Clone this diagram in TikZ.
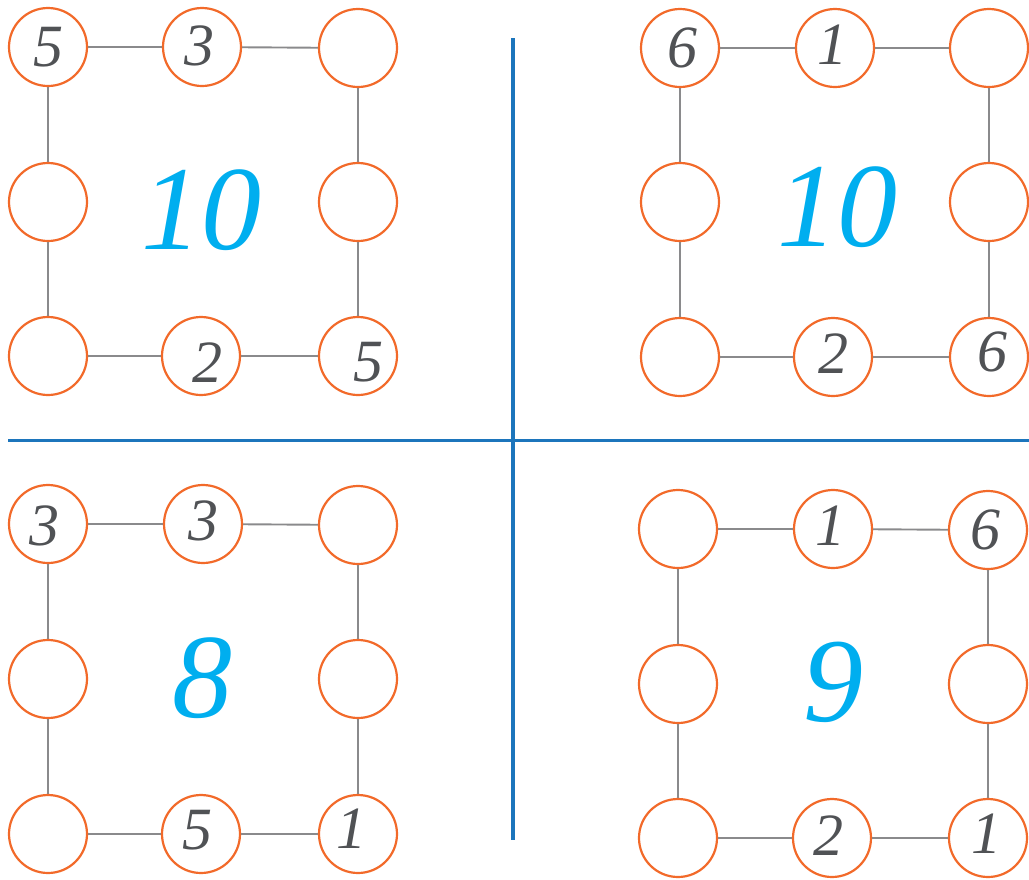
\documentclass[tikz,border=0pt]{standalone}
\usepackage{fontspec}
\newfontfamily\numfont{Liberation Serif}
\definecolor{ring}{HTML}{F26A2A}
\definecolor{edge}{HTML}{8A8A8C}
\definecolor{digit}{HTML}{505255}
\definecolor{big}{HTML}{00AEEF}
\definecolor{axis}{HTML}{1C75BC}
\begin{document}
\begin{tikzpicture}[x=1pt,y=-1pt,
  cell/.style={circle,draw=ring,line width=2.2pt,minimum size=78pt,inner sep=0pt,fill=white},
  link/.style={draw=edge,line width=1.9pt},
  small/.style={text=digit,font=\fontsize{60}{60}\selectfont\numfont\itshape,inner sep=0pt},
  total/.style={text=big,font=\fontsize{120}{120}\selectfont\numfont\itshape,inner sep=0pt},
  axisline/.style={draw=axis,line width=3.6pt}]
\useasboundingbox (0,0) rectangle (1029,879);
% blue axes
\coordinate (vt) at (513,38);
\coordinate (vb) at (513,840);
\coordinate (hl) at (8,440);
\coordinate (hr) at (1029,440);
\draw[axisline] (vt) -- (vb);
\draw[axisline,line width=3pt] (hl) -- (hr);

% ---------- top-left ----------
\node[cell] (a1) at (48,47) {};
\node[cell] (a2) at (202,47) {};
\node[cell] (a3) at (358,48) {};
\node[cell] (a4) at (48,202) {};
\node[cell] (a5) at (358,202) {};
\node[cell] (a6) at (48,356) {};
\node[cell] (a7) at (201,356) {};
\node[cell] (a8) at (358,356) {};
\draw[link] (a1) -- (a2); \draw[link] (a2) -- (a3);
\draw[link] (a1) -- (a4); \draw[link] (a4) -- (a6);
\draw[link] (a3) -- (a5); \draw[link] (a5) -- (a8);
\draw[link] (a6) -- (a7); \draw[link] (a7) -- (a8);
\node[small] (ta1) at (49,47) {5};
\node[small] (ta2) at (199,46) {3};
\node[small] (ta7) at (207,363) {2};
\node[small] (ta8) at (368,362) {5};
\node[total] (sa) at (201,210) {10};

% ---------- top-right ----------
\node[cell] (b1) at (680,48) {};
\node[cell] (b2) at (835,48) {};
\node[cell] (b3) at (989,48) {};
\node[cell] (b4) at (680,202) {};
\node[cell] (b5) at (989,202) {};
\node[cell] (b6) at (680,357) {};
\node[cell] (b7) at (833,357) {};
\node[cell] (b8) at (989,357) {};
\draw[link] (b1) -- (b2); \draw[link] (b2) -- (b3);
\draw[link] (b1) -- (b4); \draw[link] (b4) -- (b6);
\draw[link] (b3) -- (b5); \draw[link] (b5) -- (b8);
\draw[link] (b6) -- (b7); \draw[link] (b7) -- (b8);
\node[small] (tb1) at (682,48) {6};
\node[small] (tb2) at (832,45) {1};
\node[small] (tb7) at (833,354) {2};
\node[small] (tb8) at (992,352) {6};
\node[total] (sb) at (837,207) {10};

% ---------- bottom-left ----------
\node[cell] (c1) at (48,524) {};
\node[cell] (c2) at (203,524) {};
\node[cell] (c3) at (358,525) {};
\node[cell] (c4) at (48,679) {};
\node[cell] (c5) at (358,679) {};
\node[cell] (c6) at (48,834) {};
\node[cell] (c7) at (201,834) {};
\node[cell] (c8) at (358,834) {};
\draw[link] (c1) -- (c2); \draw[link] (c2) -- (c3);
\draw[link] (c1) -- (c4); \draw[link] (c4) -- (c6);
\draw[link] (c3) -- (c5); \draw[link] (c5) -- (c8);
\draw[link] (c6) -- (c7); \draw[link] (c7) -- (c8);
\node[small] (tc1) at (44,526) {3};
\node[small] (tc2) at (203,521) {3};
\node[small] (tc7) at (197,830) {5};
\node[small] (tc8) at (351,829) {1};
\node[total] (sc) at (202,678) {8};

% ---------- bottom-right ----------
\node[cell] (d1) at (678,529) {};
\node[cell] (d2) at (833,529) {};
\node[cell] (d3) at (988,530) {};
\node[cell] (d4) at (678,684) {};
\node[cell] (d5) at (988,684) {};
\node[cell] (d6) at (678,838) {};
\node[cell] (d7) at (832,838) {};
\node[cell] (d8) at (988,838) {};
\draw[link] (d1) -- (d2); \draw[link] (d2) -- (d3);
\draw[link] (d1) -- (d4); \draw[link] (d4) -- (d6);
\draw[link] (d3) -- (d5); \draw[link] (d5) -- (d8);
\draw[link] (d6) -- (d7); \draw[link] (d7) -- (d8);
\node[small] (td2) at (830,526) {1};
\node[small] (td3) at (985,530) {6};
\node[small] (td7) at (828,836) {2};
\node[small] (td8) at (986,834) {1};
\node[total] (sd) at (833,682) {9};
\end{tikzpicture}
\end{document}
